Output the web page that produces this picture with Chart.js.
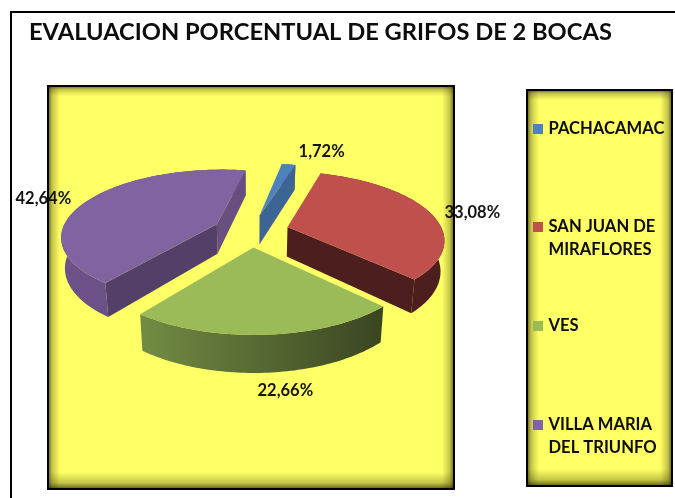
<!DOCTYPE html>
<html>
<head>
<meta charset="utf-8">
<script src="https://cdn.jsdelivr.net/npm/chart.js@4"></script>
<style>
html,body{margin:0;padding:0;background:#fff}
canvas{display:block;filter:blur(0.45px)}
</style>
</head>
<body>
<canvas id="c" width="675" height="498"></canvas>
<script>
// ---- data ----
const categories = ['PACHACAMAC', 'SAN JUAN DE MIRAFLORES', 'VES', 'VILLA MARIA DEL TRIUNFO'];
const values = [1.72, 33.08, 22.66, 42.64];
const titleText = 'EVALUACION PORCENTUAL DE GRIFOS DE 2 BOCAS';

// ---- styles ----
const topColors = ['#4F81BD', '#C0504D', '#9BBB59', '#8064A2'];
const sideColors = [
  {start:'#3d6594', end:'#3d6594', rim:['#3d6594','#3d6594']},
  {start:'#4d1e1e', end:'#4d1e1e', rim:['#4d1e1e','#4d1e1e']},
  {start:'#3b4722', end:'#3b4722', rim:['#728c44','#3a4521']},
  {start:'#533f68', end:'#684f7f', rim:['#6c5289','#664d80']}
];
const labelNudge = [[33,-13],[43,1],[19,56],[-45,-1]];
const legendRows = [129, 227, 326, 425];
const view = {a:155, b:66, p:0.17, explode:0.245, depth:30, taper:0.02, shiftX:-81};
const FONT = 'Lato, "Open Sans", sans-serif';

function project(cx, cy, u, v, z){
  const s = 1/(1 - view.p*v);
  return [cx + view.shiftX + view.a*u*s*(1 - view.taper*z), cy + view.b*v*s + view.depth*z*s];
}
function poly(ctx, pts, fill){
  ctx.beginPath();
  pts.forEach((p,i)=> i ? ctx.lineTo(p[0],p[1]) : ctx.moveTo(p[0],p[1]));
  ctx.closePath();
  ctx.fillStyle = fill;
  ctx.fill();
}
function shadedBox(ctx, x, y, w, h){
  ctx.fillStyle = '#FFFF66';
  ctx.fillRect(x, y, w, h);
  const sides = [
    [x, y, x+13, y, x, y, 13, h],
    [x+w, y, x+w-13, y, x+w-13, y, 13, h],
    [x, y, x, y+11, x, y, w, 11],
    [x, y+h, x, y+h-18, x, y+h-18, w, 18]
  ];
  sides.forEach(s=>{
    const g = ctx.createLinearGradient(s[0],s[1],s[2],s[3]);
    g.addColorStop(0,'rgba(20,20,0,0.8)');
    g.addColorStop(0.4,'rgba(60,60,0,0.3)');
    g.addColorStop(1,'rgba(80,80,0,0)');
    ctx.fillStyle = g;
    ctx.fillRect(s[4],s[5],s[6],s[7]);
  });
  ctx.strokeStyle = '#000';
  ctx.lineWidth = 2;
  ctx.strokeRect(x+1, y+1, w-2, h-2);
}
function wrap(ctx, text, maxW){
  const lines = []; let cur = '';
  text.split(' ').forEach(word=>{
    const t = cur ? cur+' '+word : word;
    if (ctx.measureText(t).width > maxW && cur){ lines.push(cur); cur = word; } else cur = t;
  });
  lines.push(cur);
  return lines;
}

const backdrop = {
  id:'backdrop',
  beforeDraw(chart){
    const ctx = chart.ctx;
    ctx.save();
    ctx.fillStyle = '#fff';
    ctx.fillRect(0,0,chart.width,chart.height);
    ctx.fillStyle = '#000';
    ctx.fillRect(10,11,chart.width-10,2);
    ctx.fillRect(10,11,2,chart.height-11);
    shadedBox(ctx, 47, 85, 408, 405);
    shadedBox(ctx, 526, 89, 147, 398);
    ctx.restore();
  }
};

const pie3d = {
  id:'pie3d',
  beforeDatasetsDraw(chart){
    const ctx = chart.ctx;
    const arcs = chart.getDatasetMeta(0).data;
    const order = arcs.map((a,i)=>i).sort((i,j)=>
      Math.sin((arcs[i].startAngle+arcs[i].endAngle)/2) - Math.sin((arcs[j].startAngle+arcs[j].endAngle)/2));
    ctx.save();
    order.forEach(i=>{
      const arc = arcs[i], cx = arc.x, cy = arc.y;
      const a0 = arc.startAngle, a1 = arc.endAngle, mid = (a0+a1)/2;
      const eu = view.explode*Math.cos(mid), ev = view.explode*Math.sin(mid);
      const n = Math.max(4, Math.round((a1-a0)/0.02));
      const top = [], low = [];
      for (let k=0;k<=n;k++){
        const t = a0+(a1-a0)*k/n;
        top.push(project(cx,cy,eu+Math.cos(t),ev+Math.sin(t),0));
        low.push(project(cx,cy,eu+Math.cos(t),ev+Math.sin(t),1));
      }
      const apexT = project(cx,cy,eu,ev,0), apexL = project(cx,cy,eu,ev,1);
      const sc = sideColors[i];
      if (-Math.cos(a0) > 0) poly(ctx,[apexT,top[0],low[0],apexL],sc.start);
      if (Math.cos(a1) > 0) poly(ctx,[apexT,top[n],low[n],apexL],sc.end);
      const xs = top.concat(low).map(p=>p[0]);
      const g = ctx.createLinearGradient(Math.min(...xs),0,Math.max(...xs),0);
      g.addColorStop(0,sc.rim[0]); g.addColorStop(1,sc.rim[1]);
      poly(ctx,top.concat(low.slice().reverse()),g);
      poly(ctx,[apexT].concat(top),topColors[i]);
    });
    ctx.restore();
    return false;
  },
  afterDraw(chart){
    const ctx = chart.ctx;
    const arcs = chart.getDatasetMeta(0).data;
    ctx.save();
    ctx.textBaseline = 'middle';
    ctx.textAlign = 'center';
    ctx.fillStyle = '#141414';
    ctx.font = 'bold 16.5px '+FONT;
    arcs.forEach((arc,i)=>{
      const mid = (arc.startAngle+arc.endAngle)/2;
      const f = 1+view.explode;
      const p = project(arc.x,arc.y,f*Math.cos(mid),f*Math.sin(mid),0);
      ctx.fillText(values[i].toFixed(2).replace('.',',')+'%', p[0]+labelNudge[i][0], p[1]+labelNudge[i][1]);
    });
    ctx.textAlign = 'left';
    ctx.font = 'bold 16.6px '+FONT;
    categories.forEach((name,i)=>{
      const y = legendRows[i];
      ctx.fillStyle = topColors[i];
      ctx.fillRect(533, y-5, 10, 10);
      ctx.fillStyle = '#0d0d0d';
      wrap(ctx,name,125).forEach((line,k)=>ctx.fillText(line,548.5,y+k*23));
    });
    ctx.restore();
  }
};

new Chart(document.getElementById('c'),{
  type:'pie',
  data:{labels:categories,datasets:[{data:values,backgroundColor:topColors,borderWidth:0}]},
  options:{
    responsive:false,
    animation:false,
    rotation:10.5,
    layout:{padding:{left:29,right:40,top:18,bottom:96}},
    plugins:{
      legend:{display:false},
      tooltip:{enabled:false},
      title:{display:true,text:titleText,align:'start',color:'#0d0d0d',
        font:{family:FONT,size:23.7,weight:'bold'},padding:{top:0,bottom:13}}
    }
  },
  plugins:[backdrop,pie3d]
});
</script>
</body>
</html>
